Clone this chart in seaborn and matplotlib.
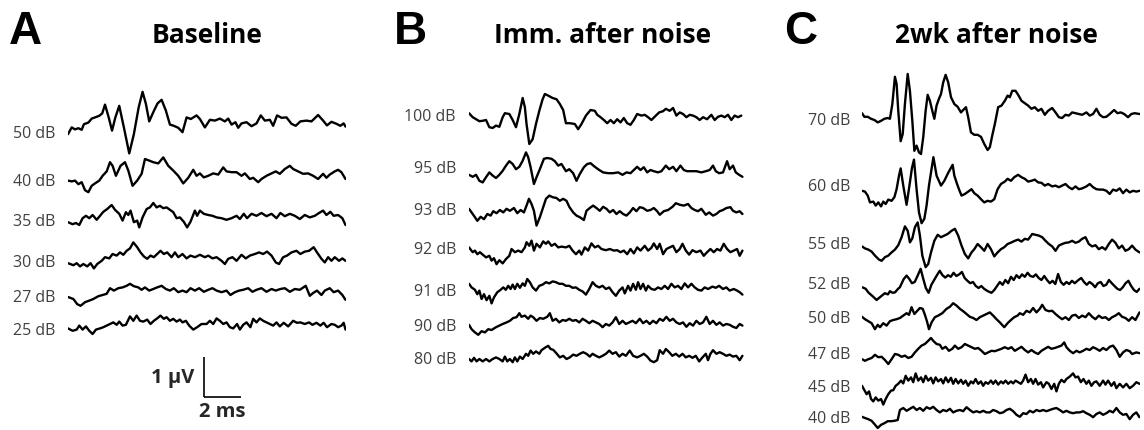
import numpy as np
import pandas as pd
import matplotlib
matplotlib.use("Agg")
import matplotlib.pyplot as plt
import seaborn as sns

# ---------------- data: ABR traces, (time ms, amplitude uV) ----------------
panel_titles = ["Baseline", "Imm. after noise", "2wk after noise"]
panel_letters = ["A", "B", "C"]

levels_A = ["50 dB", "40 dB", "35 dB", "30 dB", "27 dB", "25 dB"]
levels_B = ["100 dB", "95 dB", "93 dB", "92 dB", "91 dB", "90 dB", "80 dB"]
levels_C = ["70 dB", "60 dB", "55 dB", "52 dB", "50 dB", "47 dB", "45 dB", "40 dB"]

A_50 = [(0.0,-0.03),(0.20,0.14),(0.38,0.09),(0.56,0.12),(0.74,0.08),(0.86,0.22),(1.10,0.26),(1.28,0.36),(1.46,0.39),(1.69,0.43),(1.85,0.49),(2.00,0.71),(2.20,0.39),(2.38,0.06),(2.56,0.39),(2.77,0.68),(3.02,0.14),(3.31,-0.51),(3.56,-0.03),(3.82,0.64),(4.03,1.03),(4.21,0.73),(4.39,0.29),(4.61,0.52),(4.84,0.74),(5.06,0.83),(5.29,0.56),(5.51,0.21),(5.72,0.18),(5.96,0.13),(6.19,0.02),(6.41,0.39),(6.64,0.35),(6.95,0.44),(7.13,0.35),(7.40,0.14),(7.67,0.33),(7.94,0.31),(8.21,0.36),(8.48,0.29),(8.66,0.36),(8.84,0.21),(9.05,0.27),(9.20,0.13),(9.38,0.24),(9.65,0.27),(9.92,0.17),(10.19,0.24),(10.42,0.44),(10.64,0.31),(10.91,0.33),(11.09,0.18),(11.30,0.44),(11.54,0.38),(11.81,0.39),(12.08,0.23),(12.31,0.18),(12.56,0.29),(12.89,0.31),(13.16,0.29),(13.52,0.45),(13.79,0.31),(14.00,0.19),(14.24,0.28),(14.51,0.23),(14.72,0.18),(14.90,0.24),(15.0,0.16)]
A_40 = [(0.0,0.01),(0.20,-0.01),(0.38,0.01),(0.56,-0.08),(0.74,-0.03),(0.92,-0.23),(1.10,-0.28),(1.28,-0.12),(1.46,-0.06),(1.69,0.01),(1.87,0.13),(2.09,0.24),(2.27,0.47),(2.41,0.38),(2.59,0.13),(2.84,0.38),(3.08,0.47),(3.26,0.26),(3.49,-0.12),(3.74,0.01),(3.98,0.18),(4.16,0.55),(4.39,0.51),(4.61,0.47),(4.88,0.44),(5.15,0.59),(5.42,0.38),(5.69,0.26),(5.96,0.13),(6.23,-0.06),(6.50,0.08),(6.77,0.28),(6.95,0.13),(7.13,0.19),(7.34,0.09),(7.58,0.13),(7.85,0.19),(8.12,0.16),(8.39,0.34),(8.57,0.24),(8.84,0.22),(9.11,0.22),(9.38,0.13),(9.56,0.19),(9.83,0.05),(10.01,0.08),(10.28,-0.03),(10.46,0.05),(10.73,0.13),(11.00,0.19),(11.23,0.24),(11.45,0.18),(11.72,0.30),(11.99,0.38),(12.17,0.30),(12.44,0.24),(12.71,0.18),(12.98,0.19),(13.25,0.13),(13.52,0.05),(13.79,0.18),(13.97,0.08),(14.15,0.16),(14.42,0.24),(14.60,0.28),(14.78,0.22),(15.0,0.05)]
A_35 = [(0.0,-0.03),(0.25,-0.08),(0.43,-0.05),(0.61,-0.10),(0.79,0.07),(0.97,0.13),(1.15,0.07),(1.33,0.15),(1.55,0.03),(1.73,0.13),(1.91,0.23),(2.12,0.30),(2.36,0.40),(2.54,0.28),(2.77,0.18),(2.95,0.01),(3.13,0.22),(3.26,0.15),(3.38,0.26),(3.56,-0.03),(3.74,0.01),(3.85,-0.16),(4.03,0.09),(4.25,0.30),(4.43,0.34),(4.61,0.45),(4.79,0.34),(4.97,0.38),(5.15,0.32),(5.33,0.34),(5.51,0.28),(5.69,0.22),(5.87,0.07),(6.05,0.09),(6.26,-0.02),(6.44,-0.16),(6.62,-0.02),(6.86,0.26),(6.98,0.13),(7.13,0.26),(7.34,0.18),(7.58,0.15),(7.81,0.13),(8.03,0.09),(8.30,0.07),(8.57,0.03),(8.84,0.07),(9.11,0.13),(9.29,0.05),(9.50,0.18),(9.68,0.07),(9.92,0.18),(10.19,0.13),(10.46,0.20),(10.73,0.12),(11.00,0.18),(11.27,0.07),(11.48,0.20),(11.72,0.12),(11.99,0.18),(12.26,0.13),(12.53,0.05),(12.80,0.15),(13.07,0.09),(13.34,0.13),(13.57,0.20),(13.79,0.26),(13.97,0.15),(14.18,0.23),(14.36,0.13),(14.60,0.15),(14.83,0.07),(15.0,-0.10)]
A_30 = [(0.0,-0.03),(0.29,-0.08),(0.47,-0.03),(0.65,-0.11),(0.83,-0.05),(1.04,-0.11),(1.22,-0.03),(1.40,-0.16),(1.58,-0.05),(1.82,0.03),(2.00,0.12),(2.23,0.09),(2.41,0.20),(2.63,0.16),(2.81,0.24),(2.99,0.18),(3.17,0.28),(3.35,0.34),(3.53,0.49),(3.74,0.37),(3.92,0.24),(4.10,0.14),(4.28,0.08),(4.46,0.16),(4.64,0.12),(4.82,0.20),(5.00,0.28),(5.18,0.20),(5.36,0.24),(5.60,0.12),(5.78,0.24),(5.96,0.12),(6.19,0.20),(6.41,0.09),(6.62,0.16),(6.86,0.12),(7.13,0.18),(7.40,0.12),(7.58,0.16),(7.81,0.09),(8.03,0.12),(8.30,0.03),(8.48,-0.05),(8.66,0.08),(8.89,0.12),(9.11,0.03),(9.38,0.18),(9.61,0.09),(9.83,0.16),(10.10,0.20),(10.33,0.24),(10.55,0.20),(10.76,0.26),(11.00,0.16),(11.23,-0.01),(11.41,-0.05),(11.63,0.12),(11.84,0.16),(12.08,0.24),(12.35,0.28),(12.56,0.20),(12.80,0.26),(13.03,0.28),(13.28,0.37),(13.46,0.24),(13.70,0.08),(13.88,-0.01),(14.06,0.12),(14.24,0.03),(14.42,0.12),(14.65,0.03),(14.83,0.09),(15.0,0.03)]
A_27 = [(0.0,0.0),(0.29,-0.05),(0.50,-0.18),(0.68,-0.22),(0.92,-0.13),(1.15,-0.09),(1.37,-0.05),(1.64,0.02),(1.87,0.05),(2.09,0.08),(2.27,0.22),(2.48,0.16),(2.72,0.22),(2.95,0.24),(3.17,0.28),(3.35,0.33),(3.56,0.27),(3.80,0.24),(3.98,0.18),(4.16,0.24),(4.39,0.16),(4.61,0.20),(4.82,0.24),(5.06,0.28),(5.29,0.20),(5.51,0.16),(5.72,0.22),(5.96,0.12),(6.19,0.16),(6.41,0.12),(6.62,0.22),(6.86,0.16),(7.09,0.22),(7.34,0.13),(7.58,0.18),(7.81,0.22),(8.03,0.16),(8.30,0.12),(8.57,0.16),(8.78,0.05),(9.02,0.12),(9.25,0.16),(9.47,0.18),(9.74,0.22),(9.97,0.13),(10.19,0.18),(10.46,0.22),(10.73,0.13),(11.00,0.20),(11.23,0.16),(11.48,0.20),(11.72,0.22),(11.99,0.13),(12.26,0.20),(12.53,0.18),(12.85,0.28),(13.07,0.03),(13.25,0.10),(13.46,0.16),(13.70,0.05),(13.88,0.16),(14.15,0.22),(14.36,0.12),(14.60,0.16),(14.83,0.05),(15.0,-0.07)]
A_25 = [(0.0,0.04),(0.25,-0.02),(0.47,0.01),(0.61,0.11),(0.79,0.01),(0.97,0.09),(1.15,-0.02),(1.33,-0.10),(1.51,0.01),(1.73,0.04),(1.91,0.07),(2.09,0.11),(2.27,0.15),(2.45,0.19),(2.63,0.13),(2.77,0.21),(2.95,0.11),(3.13,0.13),(3.35,0.34),(3.53,0.23),(3.71,0.36),(3.89,0.23),(4.07,0.21),(4.28,0.26),(4.46,0.15),(4.64,0.23),(4.82,0.29),(5.00,0.36),(5.18,0.28),(5.33,0.32),(5.51,0.23),(5.69,0.28),(5.87,0.21),(6.05,0.26),(6.19,0.19),(6.37,0.23),(6.55,0.11),(6.77,0.01),(6.98,0.07),(7.22,0.15),(7.49,0.15),(7.67,0.23),(7.85,0.15),(8.03,0.29),(8.21,0.23),(8.39,0.15),(8.57,0.19),(8.75,0.07),(8.93,0.04),(9.14,0.15),(9.29,0.01),(9.47,0.13),(9.65,0.19),(9.86,0.07),(10.01,0.28),(10.19,0.19),(10.37,0.29),(10.55,0.23),(10.73,0.19),(10.91,0.15),(11.09,0.11),(11.27,0.19),(11.45,0.09),(11.66,0.18),(11.90,0.09),(12.17,0.23),(12.38,0.18),(12.56,0.19),(12.80,0.15),(13.03,0.19),(13.21,0.13),(13.43,0.18),(13.64,0.11),(13.82,0.18),(14.0,0.07),(14.24,0.15),(14.42,0.13),(14.60,0.07),(14.78,0.11),(14.90,0.18),(15.0,0.01)]

B_100 = [(0.0,0.07),(0.20,-0.03),(0.38,-0.08),(0.56,-0.13),(0.74,-0.12),(0.92,-0.10),(1.10,-0.28),(1.28,-0.30),(1.46,-0.24),(1.64,-0.27),(1.82,-0.03),(1.94,0.07),(2.18,0.05),(2.36,-0.10),(2.54,-0.28),(2.72,0.05),(2.90,0.45),(3.02,0.22),(3.11,-0.20),(3.26,-0.70),(3.44,-0.58),(3.62,-0.20),(3.80,0.13),(3.98,0.42),(4.10,0.55),(4.28,0.51),(4.52,0.45),(4.73,0.42),(4.91,0.30),(5.09,0.15),(5.24,-0.18),(5.45,-0.18),(5.72,-0.20),(5.90,-0.33),(6.08,-0.20),(6.32,0.01),(6.57,0.15),(6.80,0.13),(6.93,0.03),(7.11,-0.03),(7.29,-0.10),(7.47,-0.18),(7.65,-0.10),(7.83,-0.18),(8.01,-0.08),(8.19,-0.16),(8.37,-0.05),(8.55,-0.18),(8.73,-0.22),(8.91,-0.10),(9.09,0.05),(9.32,0.01),(9.50,0.03),(9.68,-0.03),(9.86,-0.10),(10.10,0.01),(10.28,0.09),(10.49,0.12),(10.64,0.18),(10.85,0.13),(11.03,0.20),(11.21,0.01),(11.39,0.09),(11.57,0.05),(11.75,-0.03),(11.93,0.03),(12.11,0.01),(12.29,-0.03),(12.47,-0.10),(12.65,-0.03),(12.87,-0.08),(13.10,0.03),(13.28,-0.10),(13.46,-0.02),(13.64,0.01),(13.82,-0.03),(14.0,0.03),(14.18,-0.10),(14.36,0.01),(14.54,-0.03),(14.72,0.01)]
B_95 = [(0.0,-0.17),(0.20,-0.22),(0.38,-0.17),(0.56,-0.32),(0.74,-0.36),(0.92,-0.23),(1.10,-0.11),(1.28,-0.19),(1.46,-0.25),(1.64,-0.17),(1.82,-0.07),(2.00,0.06),(2.18,0.17),(2.36,0.10),(2.54,-0.03),(2.72,0.03),(2.90,0.18),(3.08,0.39),(3.20,0.27),(3.33,0.02),(3.51,-0.40),(3.65,-0.23),(3.83,-0.03),(4.05,0.23),(4.23,0.25),(4.46,0.23),(4.64,0.17),(4.82,0.06),(5.00,0.10),(5.24,-0.08),(5.42,-0.03),(5.63,-0.13),(5.81,-0.32),(5.99,-0.15),(6.21,0.02),(6.39,0.10),(6.57,0.12),(6.80,0.03),(7.04,-0.05),(7.25,-0.11),(7.52,-0.13),(7.79,-0.13),(8.06,-0.11),(8.30,-0.17),(8.51,-0.11),(8.73,-0.13),(8.91,-0.05),(9.09,0.03),(9.27,-0.05),(9.45,0.02),(9.63,-0.11),(9.81,-0.05),(9.99,-0.08),(10.22,-0.11),(10.40,-0.08),(10.64,0.06),(10.82,-0.03),(11.03,0.03),(11.21,-0.08),(11.43,0.06),(11.61,-0.05),(11.79,-0.08),(12.02,-0.08),(12.29,-0.08),(12.56,-0.11),(12.80,-0.08),(13.01,-0.05),(13.19,0.06),(13.34,-0.08),(13.52,-0.13),(13.73,-0.11),(13.95,0.17),(14.09,-0.03),(14.27,0.06),(14.42,-0.11),(14.60,-0.17),(14.78,-0.22)]
B_93 = [(0.0,0.03),(0.20,-0.10),(0.32,-0.18),(0.45,-0.27),(0.63,-0.17),(0.81,-0.23),(0.99,-0.10),(1.17,-0.14),(1.31,-0.03),(1.49,-0.08),(1.67,0.0),(1.85,-0.06),(2.03,0.03),(2.21,-0.02),(2.43,0.05),(2.61,-0.08),(2.79,0.0),(2.97,-0.06),(3.11,0.11),(3.24,0.28),(3.38,0.15),(3.51,-0.02),(3.65,-0.39),(3.83,-0.18),(4.01,0.07),(4.16,0.28),(4.34,0.36),(4.52,0.32),(4.73,0.30),(4.91,0.23),(5.09,0.28),(5.27,0.23),(5.42,0.08),(5.63,-0.06),(5.81,-0.14),(5.99,-0.18),(6.21,-0.25),(6.35,-0.02),(6.53,0.05),(6.71,0.11),(6.89,0.05),(7.07,-0.02),(7.25,0.08),(7.43,0.03),(7.61,-0.06),(7.79,0.0),(7.97,-0.10),(8.15,-0.03),(8.33,-0.10),(8.51,-0.14),(8.69,-0.06),(8.87,0.05),(9.05,-0.03),(9.23,0.07),(9.41,0.05),(9.63,-0.02),(9.81,0.0),(9.99,0.05),(10.17,-0.03),(10.31,-0.12),(10.53,-0.03),(10.76,0.0),(11.0,0.08),(11.18,0.17),(11.40,0.13),(11.61,0.11),(11.84,0.15),(12.02,0.05),(12.20,0.0),(12.38,-0.03),(12.56,0.03),(12.80,-0.12),(12.98,-0.06),(13.19,-0.14),(13.37,-0.10),(13.55,-0.03),(13.73,0.0),(13.91,0.05),(14.13,0.07),(14.27,-0.02),(14.45,-0.06),(14.63,-0.03),(14.78,-0.10)]
B_92 = [(0.0,0.04),(0.20,-0.08),(0.32,-0.04),(0.45,-0.13),(0.59,-0.08),(0.74,-0.14),(0.92,-0.21),(1.10,-0.17),(1.22,-0.29),(1.35,-0.23),(1.49,-0.38),(1.64,-0.28),(1.82,-0.36),(2.00,-0.25),(2.18,-0.17),(2.30,0.0),(2.48,-0.08),(2.66,-0.04),(2.84,-0.08),(3.02,0.04),(3.11,0.17),(3.26,0.08),(3.38,0.21),(3.51,-0.04),(3.65,0.13),(3.83,0.04),(4.01,0.19),(4.16,0.13),(4.28,0.19),(4.46,0.08),(4.64,0.13),(4.82,0.04),(5.00,0.06),(5.24,0.04),(5.42,0.08),(5.60,-0.04),(5.78,-0.13),(5.96,-0.04),(6.08,-0.14),(6.26,0.04),(6.44,-0.04),(6.62,0.14),(6.80,0.04),(6.98,0.08),(7.16,0.0),(7.40,-0.03),(7.61,0.0),(7.83,-0.04),(8.01,-0.03),(8.19,-0.08),(8.37,-0.04),(8.55,-0.13),(8.73,0.0),(8.91,-0.11),(9.09,0.04),(9.27,-0.04),(9.50,0.08),(9.68,-0.04),(9.86,0.03),(9.99,0.14),(10.17,0.0),(10.31,0.13),(10.49,-0.13),(10.67,0.0),(10.85,0.04),(11.03,0.08),(11.21,-0.08),(11.39,0.0),(11.54,0.13),(11.72,-0.04),(11.90,-0.14),(12.08,-0.03),(12.29,-0.08),(12.51,-0.04),(12.69,-0.17),(12.87,-0.08),(13.05,0.0),(13.23,-0.08),(13.41,0.0),(13.59,-0.04),(13.77,0.13),(13.95,0.0),(14.13,-0.08),(14.31,-0.04),(14.49,0.0),(14.63,-0.17),(14.78,-0.04)]
B_91 = [(0.0,0.18),(0.14,0.09),(0.32,0.03),(0.45,-0.08),(0.56,0.01),(0.68,-0.20),(0.81,-0.08),(0.95,-0.23),(1.10,-0.12),(1.22,-0.31),(1.35,-0.16),(1.53,-0.03),(1.71,0.03),(1.85,0.09),(1.99,0.03),(2.12,0.13),(2.25,0.05),(2.36,0.16),(2.48,0.05),(2.61,0.18),(2.75,0.08),(2.90,0.19),(3.02,0.13),(3.15,0.30),(3.29,0.22),(3.44,0.09),(3.62,0.01),(3.80,0.13),(3.98,0.16),(4.16,0.22),(4.34,0.19),(4.52,0.24),(4.70,0.22),(4.88,0.18),(5.06,0.18),(5.24,0.13),(5.42,0.13),(5.60,0.08),(5.78,0.09),(5.96,0.03),(6.14,-0.01),(6.32,-0.09),(6.50,0.05),(6.68,0.22),(6.86,0.13),(7.04,0.09),(7.22,0.13),(7.40,0.05),(7.58,0.09),(7.76,-0.03),(7.94,-0.12),(8.12,0.01),(8.30,0.09),(8.42,-0.06),(8.60,0.13),(8.73,0.01),(8.87,0.18),(9.02,0.03),(9.14,0.22),(9.27,0.05),(9.41,0.18),(9.56,0.01),(9.68,0.13),(9.86,0.05),(10.04,0.03),(10.22,0.09),(10.40,0.05),(10.58,0.13),(10.76,0.05),(10.94,0.18),(11.12,0.09),(11.30,0.13),(11.48,0.05),(11.66,0.19),(11.84,0.09),(12.02,0.18),(12.20,0.09),(12.38,0.03),(12.56,0.01),(12.74,0.09),(12.92,0.05),(13.16,0.11),(13.34,0.08),(13.52,0.13),(13.73,0.05),(13.91,0.09),(14.09,0.01),(14.31,0.05),(14.49,0.01),(14.63,-0.03),(14.78,-0.09)]
B_90 = [(0.0,0.03),(0.14,-0.08),(0.32,-0.16),(0.50,-0.22),(0.68,-0.13),(0.86,-0.16),(1.04,-0.08),(1.22,-0.10),(1.46,-0.03),(1.64,0.01),(1.82,0.05),(2.03,0.09),(2.21,0.13),(2.39,0.20),(2.57,0.22),(2.72,0.32),(2.84,0.23),(3.02,0.26),(3.20,0.18),(3.33,0.26),(3.47,0.22),(3.65,0.13),(3.83,0.20),(4.01,0.18),(4.23,0.23),(4.37,0.32),(4.52,0.13),(4.70,0.18),(4.88,0.09),(5.06,0.15),(5.24,0.13),(5.42,0.18),(5.60,0.13),(5.78,0.15),(5.96,0.09),(6.14,0.18),(6.32,0.13),(6.50,0.07),(6.68,0.13),(6.86,0.09),(7.04,0.05),(7.22,-0.03),(7.40,0.05),(7.58,0.01),(7.76,0.09),(7.94,0.22),(8.12,0.05),(8.30,0.13),(8.48,0.05),(8.66,0.09),(8.84,0.13),(9.02,0.07),(9.23,0.18),(9.41,0.07),(9.59,0.13),(9.77,0.05),(9.95,0.13),(10.13,0.07),(10.31,0.18),(10.49,0.13),(10.67,0.23),(10.85,0.13),(11.03,0.18),(11.21,0.09),(11.39,0.05),(11.57,0.09),(11.75,-0.02),(11.93,0.07),(12.11,0.01),(12.29,0.13),(12.47,0.05),(12.65,0.09),(12.83,0.23),(13.01,0.05),(13.19,0.13),(13.37,0.03),(13.55,0.09),(13.73,0.01),(13.91,0.05),(14.09,0.03),(14.27,-0.02),(14.45,-0.05),(14.63,0.05),(14.78,0.01)]
B_80 = [(0.0,0.0),(0.14,-0.06),(0.27,0.03),(0.41,-0.06),(0.56,0.0),(0.74,-0.06),(0.92,0.0),(1.10,-0.06),(1.28,0.0),(1.46,0.04),(1.64,0.0),(1.82,-0.06),(1.94,0.06),(2.07,-0.06),(2.21,0.0),(2.36,-0.08),(2.48,0.04),(2.61,-0.06),(2.75,0.06),(2.90,0.0),(3.08,0.13),(3.20,0.08),(3.33,0.21),(3.47,0.13),(3.62,0.19),(3.80,0.13),(3.92,0.22),(4.10,0.28),(4.28,0.33),(4.41,0.25),(4.55,0.23),(4.73,0.14),(4.91,0.04),(5.09,0.08),(5.27,0.0),(5.45,0.04),(5.63,0.11),(5.81,0.08),(5.99,0.13),(6.17,0.17),(6.35,0.13),(6.53,0.06),(6.68,0.13),(6.86,0.08),(7.04,0.04),(7.22,0.08),(7.40,0.13),(7.58,0.21),(7.76,0.13),(7.94,0.17),(8.12,0.06),(8.30,0.13),(8.48,0.08),(8.69,0.21),(8.87,0.08),(9.09,0.04),(9.27,0.08),(9.45,0.13),(9.63,0.06),(9.81,-0.04),(9.99,-0.08),(10.17,-0.03),(10.31,0.22),(10.49,0.13),(10.64,0.25),(10.82,0.17),(10.99,0.08),(11.18,0.13),(11.36,0.06),(11.54,0.13),(11.72,0.04),(11.90,0.08),(12.08,0.03),(12.26,0.08),(12.44,-0.06),(12.62,0.04),(12.80,0.13),(12.92,-0.03),(13.05,0.13),(13.19,0.22),(13.37,0.13),(13.55,0.17),(13.73,0.13),(13.91,0.08),(14.09,0.11),(14.27,0.06),(14.45,0.08),(14.63,-0.03),(14.78,0.08)]

C_70 = [(0.0,0.17),(0.13,0.08),(0.31,0.08),(0.49,0.03),(0.67,0.0),(0.85,-0.06),(1.03,-0.02),(1.21,0.03),(1.39,0.05),(1.51,0.03),(1.64,0.40),(1.78,1.08),(1.87,0.90),(1.96,0.23),(2.09,-0.53),(2.20,-0.35),(2.32,0.40),(2.47,1.15),(2.59,0.73),(2.72,-0.02),(2.83,-0.77),(2.95,-0.64),(3.08,-0.81),(3.19,-0.85),(3.31,-0.43),(3.44,0.23),(3.55,0.63),(3.67,0.48),(3.80,0.23),(3.91,0.03),(4.03,0.36),(4.16,0.53),(4.27,0.65),(4.39,0.94),(4.52,1.13),(4.66,0.94),(4.81,0.57),(4.99,0.40),(5.17,0.33),(5.35,0.19),(5.47,0.25),(5.62,0.32),(5.74,0.07),(5.89,-0.31),(6.07,-0.37),(6.25,-0.37),(6.43,-0.42),(6.61,-0.60),(6.79,-0.75),(6.91,-0.68),(7.04,-0.39),(7.18,-0.10),(7.36,0.32),(7.54,0.36),(7.72,0.48),(7.87,0.61),(7.99,0.57),(8.12,0.73),(8.30,0.73),(8.44,0.63),(8.62,0.48),(8.80,0.42),(8.98,0.36),(9.16,0.28),(9.34,0.32),(9.52,0.23),(9.70,0.28),(9.88,0.13),(10.06,0.23),(10.28,0.30),(10.46,0.19),(10.64,0.07),(10.82,0.05),(11.0,0.13),(11.18,0.11),(11.36,0.19),(11.54,0.17),(11.72,0.15),(11.90,0.13),(12.13,0.19),(12.31,0.11),(12.49,0.15),(12.67,0.28),(12.85,0.13),(13.03,0.07),(13.21,0.08),(13.39,0.15),(13.63,0.25),(13.81,0.17),(13.99,0.19),(14.17,0.15),(14.38,0.07),(14.56,0.15),(14.74,0.17),(15.0,0.15)]
C_60 = [(0.0,-0.12),(0.16,-0.14),(0.31,-0.24),(0.43,-0.41),(0.61,-0.39),(0.74,-0.49),(0.88,-0.41),(1.03,-0.51),(1.15,-0.39),(1.28,-0.45),(1.42,-0.34),(1.60,-0.37),(1.75,-0.28),(1.87,-0.08),(2.0,0.26),(2.09,0.44),(2.23,0.01),(2.41,-0.47),(2.59,0.09),(2.70,0.45),(2.81,0.66),(2.95,-0.08),(3.08,-0.66),(3.22,-0.93),(3.37,-0.82),(3.49,-0.49),(3.62,0.01),(3.76,0.43),(3.86,0.72),(4.03,0.26),(4.27,0.01),(4.45,0.13),(4.66,0.33),(4.90,0.53),(4.99,0.26),(5.11,0.09),(5.24,-0.08),(5.38,-0.24),(5.56,-0.20),(5.74,-0.14),(5.92,-0.08),(6.07,-0.18),(6.25,-0.24),(6.43,-0.33),(6.61,-0.41),(6.79,-0.37),(6.97,-0.39),(7.15,-0.33),(7.33,-0.08),(7.51,0.05),(7.72,0.11),(7.87,0.18),(8.05,0.13),(8.23,0.22),(8.44,0.28),(8.62,0.22),(8.80,0.18),(8.98,0.11),(9.16,0.13),(9.34,0.16),(9.52,0.09),(9.70,0.08),(9.88,0.01),(10.06,0.05),(10.28,-0.01),(10.46,0.01),(10.64,-0.03),(10.82,0.01),(11.0,0.05),(11.18,-0.03),(11.36,-0.08),(11.54,-0.01),(11.72,-0.08),(11.90,-0.06),(12.13,-0.01),(12.31,0.05),(12.49,-0.03),(12.67,-0.08),(12.85,-0.09),(13.03,-0.09),(13.21,-0.12),(13.39,-0.20),(13.57,-0.09),(13.75,-0.12),(13.93,-0.06),(14.11,-0.18),(14.29,-0.09),(14.47,-0.16),(14.65,-0.12),(14.83,-0.14),(15.0,-0.12)]
C_55 = [(0.0,-0.06),(0.16,-0.11),(0.34,-0.14),(0.52,-0.19),(0.70,-0.29),(0.92,-0.39),(1.06,-0.42),(1.24,-0.33),(1.42,-0.29),(1.60,-0.21),(1.78,-0.14),(1.96,-0.03),(2.14,0.17),(2.32,0.44),(2.47,0.33),(2.59,0.04),(2.72,0.14),(2.86,0.42),(3.01,0.54),(3.13,0.21),(3.26,-0.29),(3.44,-0.58),(3.58,-0.50),(3.73,-0.21),(3.91,0.08),(4.09,0.23),(4.27,0.17),(4.45,0.21),(4.63,0.25),(4.84,0.33),(5.02,0.38),(5.20,0.21),(5.38,-0.04),(5.56,-0.25),(5.74,-0.36),(5.92,-0.21),(6.07,-0.13),(6.25,0.0),(6.43,-0.08),(6.61,-0.17),(6.79,0.0),(6.97,-0.13),(7.15,-0.31),(7.33,-0.21),(7.51,-0.13),(7.69,-0.08),(7.87,0.0),(8.08,0.04),(8.26,0.08),(8.44,0.11),(8.62,0.06),(8.80,0.13),(8.98,0.11),(9.20,0.25),(9.38,0.23),(9.56,0.21),(9.74,0.17),(9.92,0.08),(10.10,0.0),(10.28,-0.06),(10.46,-0.17),(10.64,-0.04),(10.82,0.0),(11.0,0.03),(11.18,0.04),(11.36,0.08),(11.54,0.03),(11.72,0.06),(11.90,0.13),(12.08,0.17),(12.26,0.0),(12.44,-0.06),(12.62,-0.03),(12.80,-0.13),(12.98,-0.08),(13.16,-0.14),(13.34,0.0),(13.52,0.11),(13.70,0.03),(13.88,-0.11),(14.06,-0.04),(14.24,-0.17),(14.42,-0.13),(14.60,-0.04),(14.78,-0.14),(15.0,-0.21)]
C_52 = [(0.0,-0.08),(0.2,-0.12),(0.34,-0.21),(0.61,-0.32),(0.79,-0.40),(0.97,-0.33),(1.1,-0.28),(1.24,-0.23),(1.4,-0.26),(1.51,-0.18),(1.65,-0.22),(1.78,-0.21),(1.95,-0.12),(2.05,-0.08),(2.25,0.12),(2.41,0.21),(2.55,0.13),(2.7,0.02),(2.85,0.05),(3.0,0.2),(3.17,0.38),(3.3,0.15),(3.45,-0.1),(3.6,-0.22),(3.75,-0.02),(3.9,0.1),(4.05,0.22),(4.2,0.33),(4.35,0.22),(4.5,0.16),(4.65,0.22),(4.8,0.18),(4.95,0.28),(5.1,0.2),(5.25,0.24),(5.4,0.3),(5.55,0.15),(5.7,0.08),(5.85,0.02),(6.0,0.05),(6.15,-0.05),(6.3,-0.1),(6.45,-0.05),(6.6,-0.12),(6.8,-0.18),(7.0,-0.22),(7.15,-0.15),(7.3,-0.05),(7.45,0.05),(7.6,-0.02),(7.75,0.1),(7.9,0.02),(8.05,0.18),(8.2,0.1),(8.35,0.22),(8.5,0.15),(8.65,0.24),(8.8,0.18),(8.95,0.28),(9.1,0.2),(9.25,0.18),(9.4,0.24),(9.55,0.15),(9.7,0.1),(9.85,0.2),(10.0,0.1),(10.15,0.02),(10.3,0.08),(10.45,0.0),(10.6,0.25),(10.75,0.05),(10.9,-0.02),(11.05,0.05),(11.2,0.0),(11.35,0.08),(11.5,0.02),(11.7,0.1),(11.85,0.15),(12.0,0.05),(12.15,-0.02),(12.3,0.05),(12.45,0.0),(12.6,-0.08),(12.75,0.02),(12.9,0.05),(13.05,-0.05),(13.2,-0.02),(13.35,0.1),(13.5,0.02),(13.65,-0.05),(13.8,-0.12),(13.95,-0.15),(14.1,-0.08),(14.25,0.02),(14.4,0.08),(14.55,-0.05),(14.7,-0.15),(14.85,-0.2),(15.0,-0.12)]
C_50 = [(0.0,0.03),(0.16,-0.03),(0.34,-0.08),(0.52,-0.13),(0.70,-0.28),(0.85,-0.17),(0.97,-0.23),(1.15,-0.13),(1.33,-0.19),(1.51,-0.08),(1.69,-0.05),(1.87,-0.03),(2.05,0.0),(2.23,0.06),(2.41,0.12),(2.54,0.08),(2.68,0.27),(2.83,0.10),(2.97,0.17),(3.13,0.25),(3.28,0.23),(3.40,0.08),(3.51,-0.08),(3.62,-0.28),(3.76,-0.11),(3.94,0.02),(4.12,0.06),(4.34,0.12),(4.57,0.23),(4.75,0.28),(4.93,0.37),(5.11,0.31),(5.29,0.23),(5.47,0.17),(5.65,0.10),(5.83,0.03),(6.01,0.0),(6.19,-0.05),(6.37,0.02),(6.55,0.06),(6.73,0.10),(6.91,0.14),(7.09,0.06),(7.27,-0.03),(7.45,-0.11),(7.69,-0.23),(7.87,-0.13),(8.05,-0.05),(8.23,0.02),(8.41,0.06),(8.53,0.12),(8.71,0.08),(8.89,0.18),(9.07,0.14),(9.25,0.25),(9.43,0.14),(9.61,0.23),(9.74,0.33),(9.92,0.20),(10.10,0.17),(10.28,0.18),(10.46,0.10),(10.64,0.03),(10.82,-0.03),(11.0,0.02),(11.18,-0.05),(11.36,0.06),(11.54,0.08),(11.72,0.0),(11.90,0.06),(12.08,0.02),(12.26,0.12),(12.44,0.03),(12.62,-0.03),(12.80,0.06),(12.98,0.0),(13.16,0.02),(13.34,-0.05),(13.52,0.02),(13.70,0.06),(13.88,0.12),(14.06,0.03),(14.24,0.0),(14.42,-0.07),(14.60,0.02),(14.78,-0.05),(15.0,0.14)]
C_47 = [(0.0,-0.13),(0.16,-0.17),(0.34,-0.13),(0.52,-0.10),(0.70,-0.02),(0.88,-0.08),(1.06,-0.07),(1.24,-0.15),(1.42,-0.25),(1.60,-0.13),(1.78,0.0),(1.96,-0.02),(2.14,-0.07),(2.32,-0.04),(2.50,-0.10),(2.68,-0.07),(2.86,0.04),(3.04,0.13),(3.22,0.21),(3.40,0.25),(3.58,0.33),(3.73,0.40),(3.85,0.33),(4.03,0.25),(4.21,0.23),(4.34,0.13),(4.52,0.18),(4.70,0.08),(4.88,0.13),(5.02,0.21),(5.20,0.13),(5.38,0.17),(5.56,0.25),(5.74,0.21),(5.92,0.17),(6.10,0.13),(6.28,0.15),(6.46,0.08),(6.64,0.0),(6.82,0.04),(7.0,0.08),(7.18,0.07),(7.36,0.10),(7.54,0.13),(7.72,0.17),(7.90,0.13),(8.08,0.17),(8.26,0.08),(8.44,0.13),(8.62,0.18),(8.80,0.10),(8.98,0.04),(9.16,0.10),(9.34,0.04),(9.52,0.0),(9.70,0.08),(9.88,0.13),(10.06,0.18),(10.24,0.13),(10.42,0.15),(10.60,0.18),(10.78,0.21),(10.93,0.29),(11.05,0.17),(11.23,0.08),(11.41,0.02),(11.59,0.08),(11.77,0.04),(11.95,0.08),(12.13,0.13),(12.31,0.10),(12.49,0.17),(12.67,0.13),(12.85,0.08),(13.03,0.15),(13.21,0.10),(13.39,0.18),(13.57,0.21),(13.75,0.10),(13.93,-0.07),(14.11,0.04),(14.29,0.10),(14.47,0.07),(14.60,0.0),(14.83,0.04),(15.0,0.02)]
C_45 = [(0.0,0.03),(0.13,-0.08),(0.25,-0.18),(0.38,-0.11),(0.49,-0.30),(0.61,-0.36),(0.74,-0.26),(0.88,-0.34),(1.03,-0.30),(1.15,-0.44),(1.28,-0.30),(1.42,-0.18),(1.57,-0.09),(1.69,-0.08),(1.82,0.03),(1.96,0.08),(2.11,0.16),(2.23,0.09),(2.36,0.28),(2.50,0.16),(2.65,0.24),(2.77,0.12),(2.90,0.34),(3.04,0.16),(3.19,0.24),(3.31,0.12),(3.44,0.28),(3.58,0.16),(3.73,0.23),(3.85,0.09),(3.98,0.24),(4.12,0.14),(4.27,0.20),(4.39,0.09),(4.52,0.24),(4.66,0.12),(4.81,0.23),(4.93,0.08),(5.06,0.20),(5.20,0.09),(5.35,0.18),(5.47,0.08),(5.60,0.16),(5.74,0.03),(5.89,0.14),(6.01,0.09),(6.14,0.20),(6.28,0.08),(6.43,0.14),(6.55,0.03),(6.68,0.12),(6.82,0.08),(6.97,0.16),(7.09,0.08),(7.22,0.16),(7.36,0.06),(7.51,0.14),(7.63,0.09),(7.76,0.16),(7.90,0.08),(8.05,0.14),(8.17,0.09),(8.30,0.16),(8.44,0.12),(8.59,0.08),(8.71,0.16),(8.84,0.31),(8.98,0.12),(9.13,0.20),(9.25,0.08),(9.38,0.20),(9.52,0.06),(9.67,0.12),(9.79,-0.01),(9.97,0.12),(10.10,0.08),(10.24,-0.05),(10.39,0.08),(10.51,-0.11),(10.64,0.08),(10.78,0.18),(10.93,0.12),(11.05,0.20),(11.23,0.26),(11.41,0.34),(11.54,0.24),(11.68,0.26),(11.83,0.12),(11.97,0.20),(12.13,0.08),(12.26,0.16),(12.40,0.03),(12.55,0.12),(12.67,0.14),(12.85,0.03),(13.03,0.16),(13.16,0.06),(13.30,0.16),(13.48,0.03),(13.63,0.12),(13.75,-0.03),(13.93,0.08),(14.11,-0.01),(14.29,0.08),(14.47,-0.03),(14.65,0.03),(14.83,0.12),(15.0,0.08)]
C_40 = [(0.0,0.03),(0.16,0.0),(0.34,-0.03),(0.52,-0.07),(0.67,-0.15),(0.85,-0.25),(1.03,-0.17),(1.21,-0.13),(1.39,-0.08),(1.57,-0.08),(1.75,-0.07),(1.93,-0.05),(2.05,0.20),(2.23,0.25),(2.41,0.18),(2.59,0.23),(2.77,0.28),(2.95,0.20),(3.13,0.25),(3.31,0.18),(3.49,0.27),(3.67,0.23),(3.85,0.28),(4.03,0.20),(4.21,0.14),(4.39,0.20),(4.57,0.17),(4.75,0.23),(4.93,0.14),(5.11,0.18),(5.29,0.20),(5.47,0.17),(5.65,0.27),(5.83,0.20),(6.01,0.14),(6.19,0.17),(6.37,0.14),(6.55,0.18),(6.73,0.14),(6.91,0.14),(7.09,0.20),(7.27,0.17),(7.45,0.12),(7.63,0.14),(7.81,0.20),(7.99,0.23),(8.17,0.17),(8.35,0.08),(8.53,0.03),(8.71,0.12),(8.89,0.10),(9.07,0.18),(9.25,0.14),(9.43,0.20),(9.61,0.17),(9.79,0.20),(9.97,0.17),(10.15,0.20),(10.33,0.23),(10.51,0.25),(10.69,0.20),(10.87,0.14),(11.05,0.18),(11.23,0.14),(11.41,0.12),(11.59,0.14),(11.77,0.14),(11.95,0.17),(12.13,0.12),(12.31,0.08),(12.49,0.02),(12.67,0.10),(12.85,0.14),(13.03,0.08),(13.21,0.12),(13.39,0.18),(13.57,0.14),(13.75,0.25),(13.93,0.14),(14.11,0.08),(14.29,0.10),(14.47,-0.03),(14.65,0.08),(14.83,0.14),(15.0,0.02)]

traces_A = [A_50, A_40, A_35, A_30, A_27, A_25]
traces_B = [B_100, B_95, B_93, B_92, B_91, B_90, B_80]
traces_C = [C_70, C_60, C_55, C_52, C_50, C_47, C_45, C_40]

scale_uV = 1.0
scale_ms = 2.0

# ---------------- layout (pixels of the 1144 x 431 canvas) ----------------
W, H = 1144, 431
PX_PER_MS = 18.5
PX_PER_UV = 40.0
panel_x0 = [68, 469, 862]                      # left edge of the traces
label_right = [55, 456, 850]                   # right edge of the dB labels
rows_A = [134, 182, 222, 263, 298, 331]        # vertical position of each trace
rows_B = [117, 169, 211, 250, 292, 327, 360]
rows_C = [121, 187, 245, 285, 319, 355, 388, 419]
title_cx = [207, 603, 996]
letter_x = [9, 394, 784]

sns.set_theme(style="white")
plt.rcParams["font.family"] = ["Open Sans", "DejaVu Sans"]

fig = plt.figure(figsize=(W / 100, H / 100), dpi=100)

def make_axes(x0):
    ax = fig.add_axes([x0 / W, 0, 15 * PX_PER_MS / W, 1])
    ax.set_xlim(0, 15)
    ax.set_ylim(-H / PX_PER_UV, 0)
    ax.axis("off")
    return ax

panels = [(levels_A, traces_A, rows_A), (levels_B, traces_B, rows_B), (levels_C, traces_C, rows_C)]
axes = []
for i, (levels, traces, rows) in enumerate(panels):
    ax = make_axes(panel_x0[i])
    axes.append(ax)
    frames = []
    for lev, tr, row in zip(levels, traces, rows):
        t = np.array([p[0] for p in tr])
        v = np.array([p[1] for p in tr])
        frames.append(pd.DataFrame({"time": t, "amp": v - row / PX_PER_UV, "level": lev}))
    df = pd.concat(frames, ignore_index=True)
    sns.lineplot(data=df, x="time", y="amp", units="level", estimator=None,
                 sort=False, color="black", linewidth=1.7, ax=ax, legend=False)
    ax.set_xlabel("")
    ax.set_ylabel("")
    ax.axis("off")
    for lev, row in zip(levels, rows):
        fig.text(label_right[i] / W, 1 - row / H, lev, ha="right", va="center",
                 fontsize=11.5, color="#404040")
    fig.text(title_cx[i] / W, 1 - 43 / H, panel_titles[i], ha="center", va="baseline",
             fontsize=19, fontweight="bold", color="black")
    fig.text(letter_x[i] / W, 1 - 44 / H, panel_letters[i], ha="left", va="baseline",
             fontsize=33, fontweight="bold", color="black", family="Liberation Sans")

# scale bar on panel A (data units: 2 ms by 1 uV)
axA = axes[0]
sb_x = (204 - panel_x0[0]) / PX_PER_MS
sb_y = -398 / PX_PER_UV
axA.plot([sb_x, sb_x], [sb_y, sb_y + scale_uV], color="black", lw=1.2, solid_capstyle="butt")
axA.plot([sb_x, sb_x + scale_ms], [sb_y, sb_y], color="black", lw=1.2, solid_capstyle="butt")
fig.text(194 / W, 1 - 378 / H, "1 \u00b5V", ha="right", va="center", fontsize=14.5, fontweight="bold")
fig.text(222 / W, 1 - 412 / H, "2 ms", ha="center", va="center", fontsize=14.5, fontweight="bold")

fig.savefig("out.png", dpi=100)
